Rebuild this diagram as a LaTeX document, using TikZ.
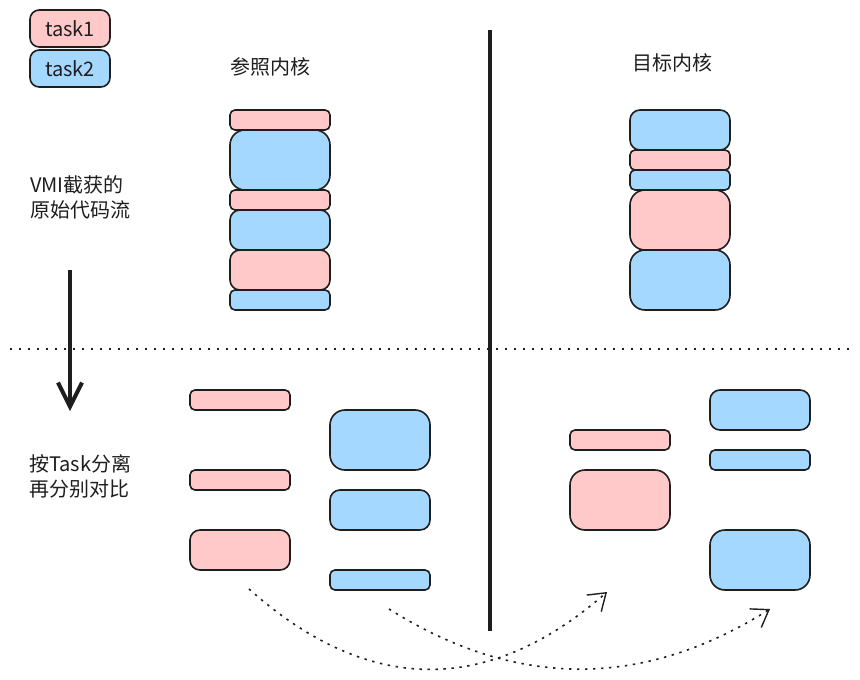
\documentclass[tikz,border=0pt]{standalone}
\usepackage{fontspec}
\setmainfont{Noto Sans CJK SC}
\usetikzlibrary{arrows.meta}
\definecolor{ink}{HTML}{1E1E1E}
\definecolor{taskpink}{HTML}{FFC9C9}
\definecolor{taskblue}{HTML}{A5D8FF}

\begin{document}
\begin{tikzpicture}[x=1pt, y=-1pt,
    seg/.style={draw=ink, line width=1.6pt, minimum width=100pt, inner sep=0pt},
    hh/.style={minimum height=#1pt, rounded corners=0.25*#1pt},
    t1/.style={seg, fill=taskpink},
    t2/.style={seg, fill=taskblue},
    lbl/.style={anchor=west, inner sep=0pt, text=ink, align=left, font=\fontsize{20}{25}\selectfont},
    flow/.style={ink, line width=1.6pt, dash pattern=on 2.4pt off 5.6pt, -{Straight Barb[length=16pt, width=22pt, line width=1.4pt]}}]
      \useasboundingbox [fill=white] (0,0) rectangle (860,680);

      % 凡例
      \node [t1, hh=37, minimum width=80pt] (key1) at (70,28.5) {\fontsize{20}{25}\selectfont\color{ink}task1};
      \node [t2, hh=37, minimum width=80pt] (key2) at (70,68.5) {\fontsize{20}{25}\selectfont\color{ink}task2};

      % 区切り線
      \draw [ink, line width=1.6pt, dash pattern=on 1.8pt off 7.2pt](10,349)--(850,349);
      \draw [ink, line width=4pt](490,30)--(490,631);

      % 説明
      \node [lbl] (refname) at (230,67) {参照内核};
      \node [lbl] (tgtname) at (632,63) {目标内核};
      \node [lbl] (rawtxt) at (30,197) {VMI截获的\\原始代码流};
      \node [lbl] (splittxt) at (29,476) {按Task分离\\再分别对比};

      % 矢印
      \coordinate (down0) at (70,270);
      \coordinate (down1) at (70,411);
      \draw [ink, line width=4pt, -{Straight Barb[length=24pt, width=24pt, line width=4pt]}](down0)--(down1);

      % 参照内核
      \node [t1, hh=20] (ra) at (280,120) {};
      \node [t2, hh=60] (rb) at (280,160) {};
      \node [t1, hh=20] (rc) at (280,200) {};
      \node [t2, hh=40] (rd) at (280,230) {};
      \node [t1, hh=40] (re) at (280,270) {};
      \node [t2, hh=20] (rf) at (280,300) {};

      % 目标内核
      \node [t2, hh=40] (ta) at (680,130) {};
      \node [t1, hh=20] (tb) at (680,160) {};
      \node [t2, hh=20] (tc) at (680,180) {};
      \node [t1, hh=60] (td) at (680,220) {};
      \node [t2, hh=60] (te) at (680,280) {};

      % 参照内核 分離後
      \node [t1, hh=20] (rp1) at (240,400) {};
      \node [t1, hh=20] (rp2) at (240,480) {};
      \node [t1, hh=40] (rp3) at (240,550) {};
      \node [t2, hh=60] (rq1) at (380,440) {};
      \node [t2, hh=40] (rq2) at (380,510) {};
      \node [t2, hh=20] (rq3) at (380,580) {};

      % 目标内核 分離後
      \node [t1, hh=20] (tp1) at (620,440) {};
      \node [t1, hh=60] (tp2) at (620,500) {};
      \node [t2, hh=40] (tq1) at (760,410) {};
      \node [t2, hh=20] (tq2) at (760,460) {};
      \node [t2, hh=60] (tq3) at (760,560) {};

      % 比較の矢印
      \coordinate (from1) at (249,589);
      \coordinate (to1) at (607,592);
      \coordinate (from2) at (389,609);
      \coordinate (to2) at (770,609);
      \draw [flow](from1) .. controls (368,695) and (488,696) .. (to1);
      \draw [flow](from2) .. controls (516,689) and (643,689) .. (to2);
    \end{tikzpicture}
\end{document}
